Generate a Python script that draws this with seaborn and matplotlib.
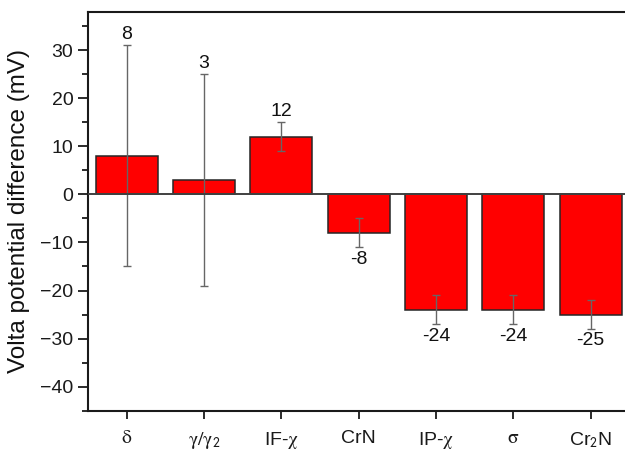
import matplotlib
matplotlib.use("Agg")
import matplotlib.pyplot as plt
from matplotlib.ticker import MultipleLocator
import seaborn as sns
import pandas as pd

# Phase labels and measured Volta potential differences (mV) with spread
categories = [r"$\mathrm{\delta}$", r"$\mathrm{\gamma/\gamma}_\mathsf{2}$", r"IF-$\mathrm{\chi}$",
              "CrN", r"IP-$\mathrm{\chi}$", r"$\mathrm{\sigma}$", r"Cr$_\mathsf{2}$N"]
values = [8, 3, 12, -8, -24, -24, -25]
errors = [23, 22, 3, 3, 3, 3, 3]

sns.set_style("ticks")
plt.rcParams["font.family"] = ["Liberation Sans", "DejaVu Sans"]
plt.rcParams["mathtext.fontset"] = "stix"

df = pd.DataFrame({"phase": categories, "vpd": values, "err": errors})

fig = plt.figure(figsize=(6.25, 4.53), dpi=100)
ax = fig.add_axes([0.1408, 0.0934, 0.8662, 0.8808])

sns.barplot(data=df, x="phase", y="vpd", color="#ff0000", saturation=1,
            width=0.8, edgecolor="#262626", linewidth=1.1, errorbar=None, ax=ax)

pos = list(range(len(categories)))
ax.errorbar(pos, df["vpd"], yerr=df["err"], fmt="none", ecolor="#666666",
            elinewidth=1.0, capsize=3, capthick=1.0, zorder=3)

ax.axhline(0, color="#404040", linewidth=1.4, zorder=4)

for x, v, e in zip(pos, df["vpd"], df["err"]):
    if v >= 0:
        ax.annotate(f"{v}", (x, v + e), xytext=(0, 1.5), textcoords="offset points",
                    ha="center", va="bottom", fontsize=14, color="#111111")
    else:
        ax.annotate(f"{v}", (x, v - e), xytext=(0, -2.5), textcoords="offset points",
                    ha="center", va="top", fontsize=14, color="#111111")

ax.set_xlim(-0.5, 6.5)
ax.set_ylim(-45, 38)
ax.yaxis.set_major_locator(MultipleLocator(10))
ax.yaxis.set_minor_locator(MultipleLocator(5))
ax.set_yticks(range(-40, 31, 10))

ax.set_xlabel("")
ax.set_ylabel("Volta potential difference (mV)", fontsize=17.5, color="#111111",
              labelpad=7)

for side in ["top", "left", "bottom"]:
    ax.spines[side].set_visible(True)
    ax.spines[side].set_linewidth(1.5)
    ax.spines[side].set_color("#1a1a1a")
ax.spines["right"].set_visible(False)

ax.tick_params(axis="y", which="major", direction="out", length=7, width=1.3,
               labelsize=14, colors="#1a1a1a")
ax.tick_params(axis="y", which="minor", direction="out", length=4, width=1.3,
               colors="#1a1a1a")
ax.tick_params(axis="x", which="major", direction="out", length=6, width=1.3,
               labelsize=14, colors="#1a1a1a", pad=8)
ax.tick_params(axis="x", which="minor", bottom=False)

fig.savefig("out.png", dpi=100)
